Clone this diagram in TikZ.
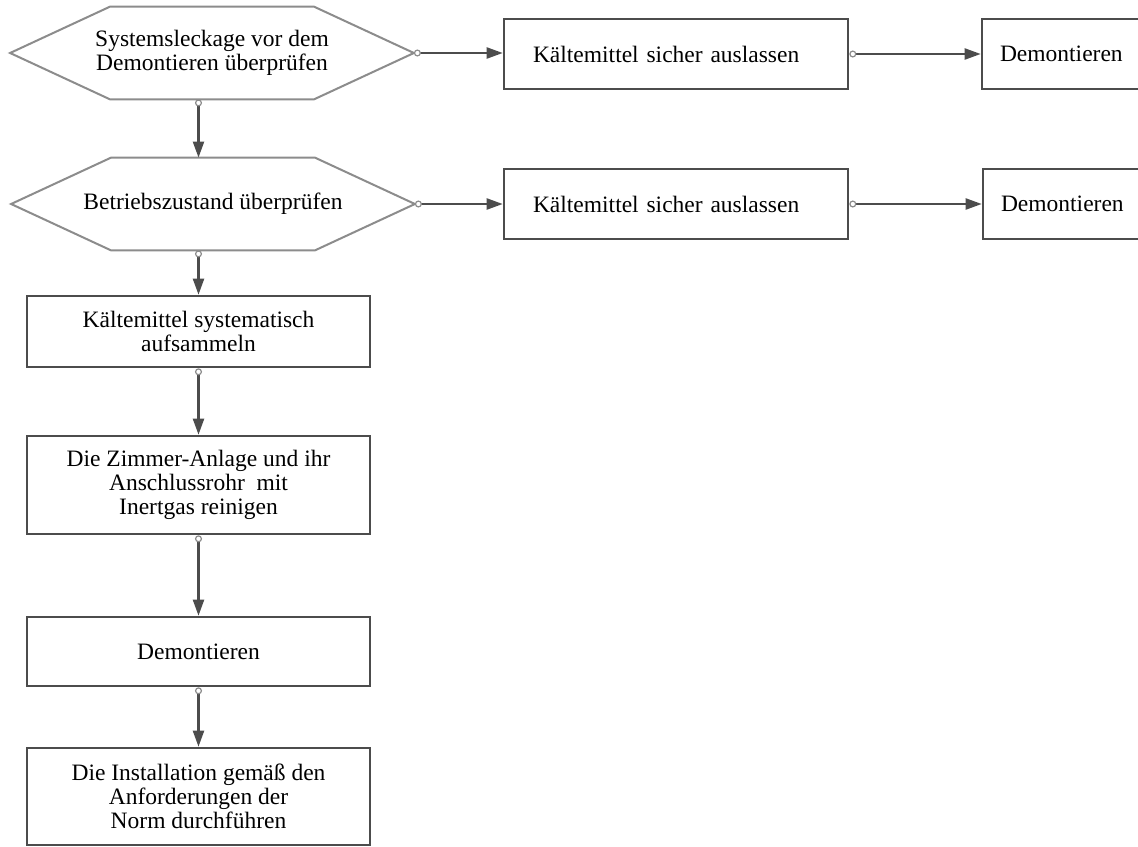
\documentclass[tikz,border=0pt]{standalone}
\usepackage{fontspec}
\setmainfont{Liberation Serif}
\usetikzlibrary{arrows.meta}

\begin{document}
\begin{tikzpicture}[x=0.5pt,y=-0.5pt,
  every node/.style={font=\fontsize{11.75}{12}\selectfont,inner sep=0pt,align=center},
  hexa/.style={minimum width=201.5pt,minimum height=46pt},
  hexline/.style={draw=black!45,line width=1pt},
  box/.style={draw=black!70,line width=1.3pt,minimum width=171.5pt},
  wide/.style={box,minimum width=172pt,minimum height=35pt,text width=143pt,align=left},
  last/.style={box,minimum width=80pt,minimum height=35pt,text width=62pt,align=left},
  flow/.style={draw=black!70,line width=1.1pt,{Circle[color=black!45,fill=white,length=3.5pt,line width=0.6pt]}-{Triangle[length=8pt,width=5.5pt]}}]
\clip (0,0) rectangle (1138,846);
\node[hexa] (h1) at (212,53) {Systemsleckage vor dem\\Demontieren überprüfen};
\node[hexa] (h2) at (213,204) {Betriebszustand überprüfen};
\foreach \h in {h1,h2}
  \draw[hexline] ([xshift=50pt]\h.north west) -- ([xshift=-50pt]\h.north east) -- (\h.east)
    -- ([xshift=-50pt]\h.south east) -- ([xshift=50pt]\h.south west) -- (\h.west) -- cycle;
\node[wide] (k1) at (676,54) {Kältemittel sicher auslassen};
\node[last] (d1) at (1062,54) {Demontieren};
\node[wide] (k2) at (676,204) {Kältemittel sicher auslassen};
\node[last] (d2) at (1063,204) {Demontieren};
\node[box,minimum height=35.5pt] (s1) at (198.5,331.5) {Kältemittel systematisch\\aufsammeln};
\node[box,minimum height=49pt] (s2) at (198.5,485) {Die Zimmer-Anlage und ihr\\Anschlussrohr\ \ mit\\Inertgas reinigen};
\node[box,minimum height=34.5pt] (s3) at (198.5,651.5) {Demontieren};
\node[box,minimum height=48.5pt] (s4) at (198.5,796.5) {Die Installation gemäß den\\Anforderungen der\\Norm durchführen};
\draw[flow] (h1.east) -- (h1.east -| k1.west);
\draw[flow] (k1.east) -- (d1.west);
\draw[flow] (h2.east) -- (h2.east -| k2.west);
\draw[flow] (k2.east) -- (d2.west);
\draw[flow] (h1.south -| s1.north) -- (h2.north -| s1.north);
\draw[flow] (h2.south -| s1.north) -- (s1.north);
\draw[flow] (s1.south) -- (s2.north);
\draw[flow] (s2.south) -- (s3.north);
\draw[flow] (s3.south) -- (s4.north);
\end{tikzpicture}
\end{document}
